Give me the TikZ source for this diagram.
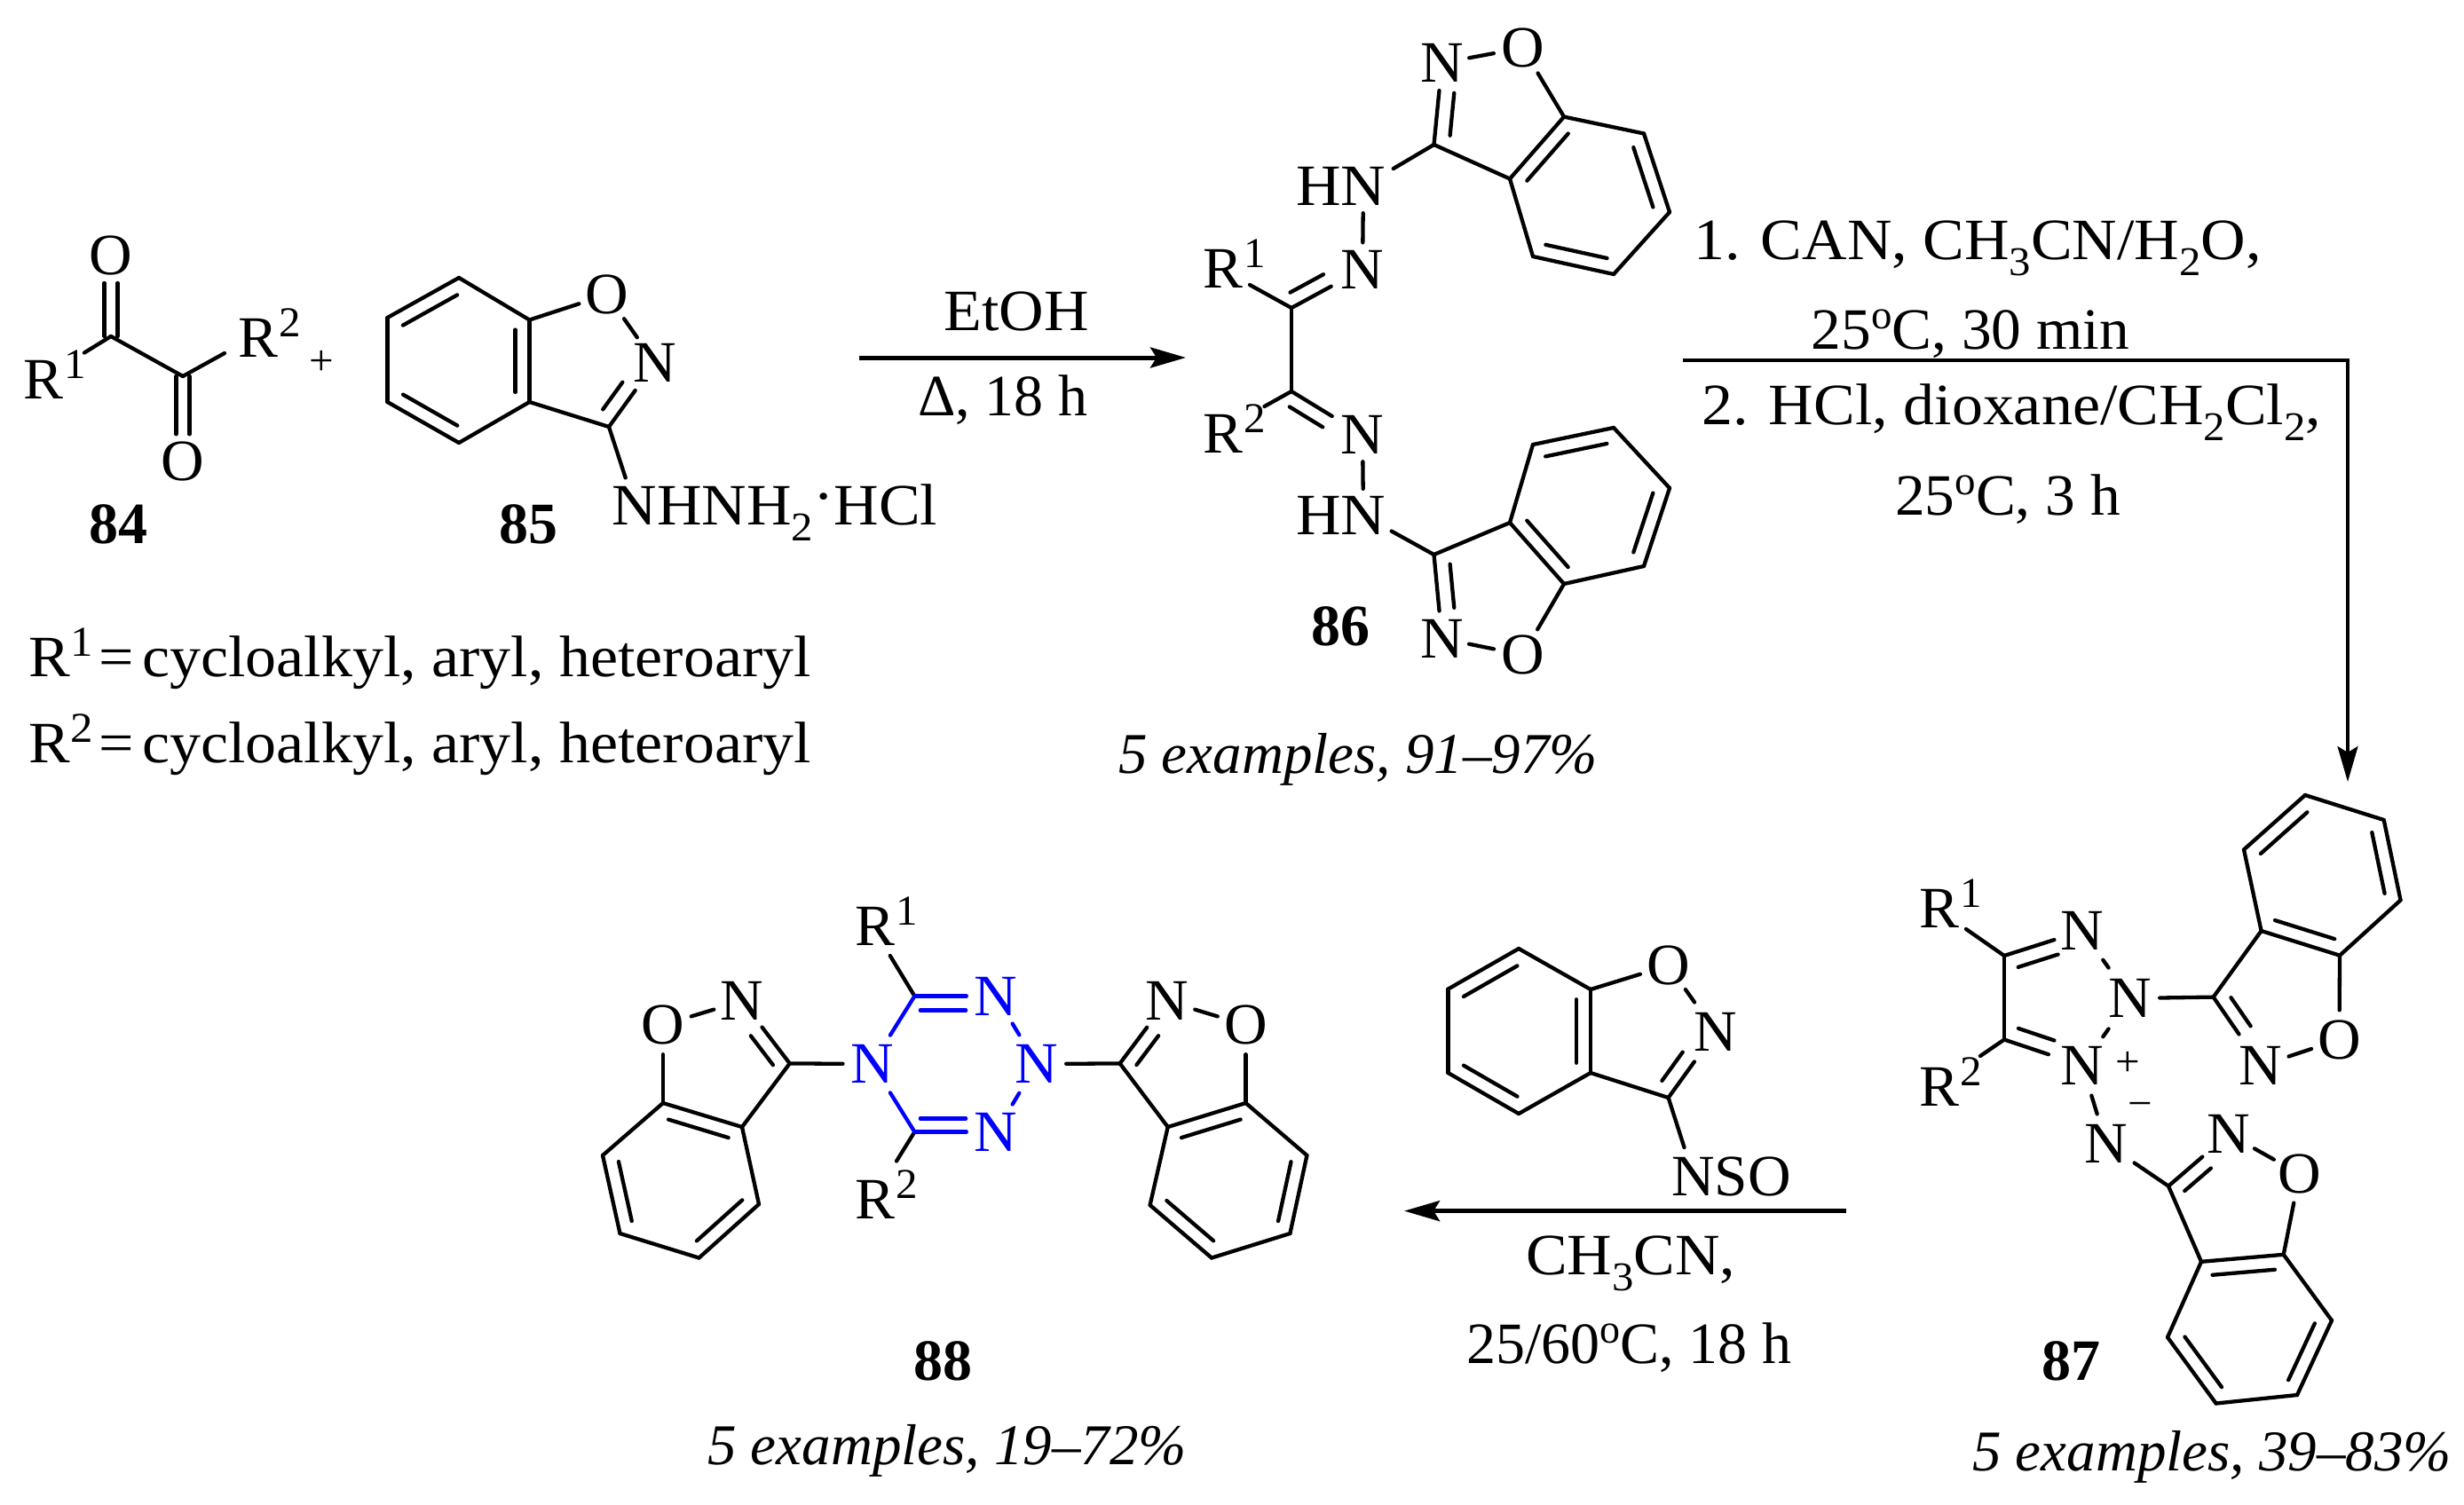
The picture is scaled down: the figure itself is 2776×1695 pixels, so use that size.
\documentclass[tikz,border=0pt]{standalone}
\usepackage{fontspec}
\setmainfont{Liberation Serif}
\newfontfamily\fw[FakeStretch=1.06]{Liberation Serif}
\newfontfamily\fm[FakeStretch=1.02]{Liberation Serif}
\usetikzlibrary{calc,arrows.meta}
\definecolor{tetblue}{RGB}{0,0,255}
\tikzset{
  bond/.style={line width=4.3pt,line cap=round,line join=round},
  reactline/.style={line width=5pt,-{Stealth[length=40pt,width=23pt,inset=7pt]}},
  atomnode/.style={circle,inner sep=0pt,font=\fm\fontsize{66}{70}\selectfont},
  txt/.style={inner sep=0pt,anchor=base,font=\fm\fontsize{66}{70}\selectfont},
  txtl/.style={txt,anchor=base west},
  wide/.style={font=\fw\fontsize{66}{70}\selectfont},
  lbl/.style={txt,font=\rmfamily\fontsize{66}{70}\selectfont\bfseries},
  ital/.style={txtl,font=\rmfamily\fontsize{65}{70}\selectfont\itshape},
  charge/.style={inner sep=0pt,font=\fm\fontsize{48}{50}\selectfont}
}
\newcommand\atom[4][66]{\node[atomnode,minimum size=#1pt] (#2) at (#3) {\hbox to 0pt{\hss\smash{\raisebox{-.33em}{#4}}\hss}};}
\newcommand\batom[4][66]{\node[atomnode,text=tetblue,minimum size=#1pt] (#2) at (#3) {\hbox to 0pt{\hss\smash{\raisebox{-.33em}{#4}}\hss}};}
\newcommand\bd[3][]{\draw[bond,#1] (#2) -- (#3);}
\newcommand\dbl[6][]{\draw[bond,#1] ($(#2)!#4!(#3)!#6pt!90:(#3)$) -- ($(#3)!#5!(#2)!#6pt!-90:(#2)$);}
\newcommand\rd[2]{\dbl{#1}{#2}{.12}{.12}{16}}
\newcommand\Rg[1]{R\kern1pt\raisebox{23pt}{\fontsize{48}{48}\selectfont #1}}
\newcommand\lo[1]{\raisebox{-18pt}{\fontsize{46}{46}\selectfont #1}}
\newcommand\hi[1]{\raisebox{23pt}{\fontsize{46}{46}\selectfont #1}}
\newcommand\pts[1]{\foreach \n/\p in {#1}{\coordinate (\n) at (\p);}}
\begin{document}
\begin{tikzpicture}[x=1pt,y=-1pt]
\useasboundingbox (0,0) rectangle (2776,1695);
% ---------- 84
\pts{a1/{125,379},a2/{206,424},ar1/{95,397.5},ar2/{253,398}}
\atom{ao1}{125,288}{O}
\atom{ao2}{206,520}{O}
\node[txtl] (ar1t) at (26,449) {\Rg{1}};
\node[txtl] (ar2t) at (268,402) {\Rg{2}};
\bd{a1}{a2}\bd{a1}{ar1}\bd{a2}{ar2}
\dbl{a1}{ao1}{.0}{.34}{7.5}\dbl{a1}{ao1}{.0}{.34}{-7.5}
\dbl{a2}{ao2}{.0}{.32}{7.5}\dbl{a2}{ao2}{.0}{.32}{-7.5}
\node[charge] (plus) at (362,409) {+};
\node[lbl] (l84) at (133,612) {84};
% ---------- 85
\pts{ba/{517,313},bb/{596.5,360.5},bc/{596.5,453},bd/{517,499},be/{436.5,453},bf/{436.5,358},bg/{686,481}}
\atom{bo}{684,332}{O}
\atom{bn}{738,409}{N}
\atom{bh}{715,570}{\fw N\rlap{HNH\lo{2}\raisebox{10pt}{·}HCl}}
\bd{ba}{bb}\bd{bb}{bc}\bd{bc}{bd}\bd{bd}{be}\bd{be}{bf}\bd{bf}{ba}
\rd{ba}{bf}\rd{be}{bd}\rd{bc}{bb}
\bd{bb}{bo}\bd{bc}{bg}\bd[shorten >=2pt]{bo}{bn}\bd[shorten >=5pt]{bg}{bn}
\dbl{bg}{bn}{.135}{.44}{17}
\bd{bg}{bh}
\node[lbl] (l85) at (595,612) {85};
\node[txtl,wide] (rdef1) at (32,762) {\Rg{1}\kern6pt=\kern-8pt\ cycloalkyl, aryl, heteroaryl};
\node[txtl,wide] (rdef2) at (32,859) {\Rg{2}\kern6pt=\kern-8pt\ cycloalkyl, aryl, heteroaryl};
% ---------- arrow 1
\pts{p1s/{968,403},p1e/{1336,403}}
\draw[reactline] (p1s) -- (p1e);
\node[txt,wide] (etoh) at (1145,372) {EtOH};
\node[txt,font=\rmfamily\fontsize{66}{70}\selectfont] (heat) at (1130,468) {Δ, 18 h};
% ---------- 86 upper
\pts{cc3/{1615.5,163},cc3a/{1701,201.5},cc7a/{1762,131.6},cc7/{1852,150.5},cc6/{1881,239},cc5/{1818,309},cc4/{1727,289},cu/{1455,347},cl/{1455,441},cr1/{1408,321},cr2/{1424.5,458}}
\atom[62]{cn}{1624.5,71}{N}
\atom{co}{1715.5,54}{O}
\atom[60]{chn}{1536,210}{\fw\llap{H}N}
\atom[60]{cim}{1535,303.5}{N}
\node[txtl] (cr1t) at (1355,324) {\Rg{1}};
\node[txtl] (cr2t) at (1355,510) {\Rg{2}};
\bd{cu}{cl}\bd{cu}{cr1}\bd{cl}{cr2}
\bd[shorten >=10pt]{cu}{cim}\dbl{cu}{cim}{.077}{.455}{16}
\bd{cim}{chn}
\bd[shorten >=9pt]{cc3}{chn}
\bd{cc3}{cn}\dbl{cc3}{cn}{.13}{.35}{-17}
\bd{cn}{co}\bd{co}{cc7a}\bd{cc7a}{cc3a}\bd{cc3a}{cc3}
\bd{cc7a}{cc7}\bd{cc7}{cc6}\bd{cc6}{cc5}\bd{cc5}{cc4}\bd{cc4}{cc3a}
\rd{cc7a}{cc3a}\rd{cc4}{cc5}\rd{cc6}{cc7}
% ---------- 86 lower
\pts{dc3/{1615.5,625},dc3a/{1701,589},dc7a/{1762,658},dc7/{1852,638},dc6/{1881,550},dc5/{1818,482},dc4/{1727,501}}
\atom[62]{dn}{1624.5,719.5}{N}
\atom{do}{1715.5,738}{O}
\atom[60]{dhn}{1536,581}{\fw\llap{H}N}
\atom[60]{dim}{1535,490}{N}
\bd[shorten >=10pt]{cl}{dim}\dbl{cl}{dim}{.077}{.455}{-16}
\bd{dim}{dhn}
\bd[shorten >=6pt]{dc3}{dhn}
\bd{dc3}{dn}\dbl{dc3}{dn}{.13}{.35}{17}
\bd{dn}{do}\bd{do}{dc7a}\bd{dc7a}{dc3a}\bd{dc3a}{dc3}
\bd{dc7a}{dc7}\bd{dc7}{dc6}\bd{dc6}{dc5}\bd{dc5}{dc4}\bd{dc4}{dc3a}
\rd{dc3a}{dc7a}\rd{dc7}{dc6}\rd{dc5}{dc4}
\node[lbl] (l86) at (1510,727) {86};
\node[ital] (y86) at (1260,871) {5 examples, 91–97\%};
% ---------- arrow 2
\pts{p2s/{1896,406},p2m/{2645,406},p2e/{2645,881}}
\draw[reactline,line width=3.6pt,line join=miter] (p2s) -- (p2m) -- (p2e);
\node[txtl,wide] (r21) at (1908,292) {1. CAN, CH\lo{3}CN/H\lo{2}O,};
\node[txt] (r22) at (2220,393) {25\hi{o}C, 30 min};
\node[txtl,wide] (r23) at (1917,478) {2. HCl, dioxane/CH\lo{2}Cl\lo{2},};
\node[txt] (r24) at (2262,580) {25\hi{o}C, 3 h};
% ---------- 87
\pts{ec4/{2258,1077},ec5/{2258,1171.5},er1/{2215,1047},er2/{2231,1190},
 fc3/{2493.6,1123.6},fc3a/{2547.6,1049},fc4/{2528,957.4},fc5/{2597,896},fc6/{2685.7,924},fc7/{2704.5,1014.4},fc7a/{2636,1076.7},
 gc3/{2443,1336.6},gc3a/{2480,1421.8},gc7a/{2572.7,1413.8},gc7/{2627,1488},gc6/{2588,1572},gc5/{2496.6,1581.5},gc4/{2442,1507}}
\atom{en1}{2346,1049}{N}
\atom{en2}{2400,1125}{N}
\atom{en3}{2346,1201}{N}
\atom{en4}{2373,1289}{N}
\node[charge] (eplus) at (2397,1199) {+};
\node[charge] (eminus) at (2411,1251) {−};
\node[txtl] (er1t) at (2162,1045) {\Rg{1}};
\node[txtl] (er2t) at (2162,1246) {\Rg{2}};
\bd{ec4}{ec5}\bd{ec4}{er1}\bd{ec5}{er2}
\bd{ec4}{en1}\dbl{ec4}{en1}{.12}{.37}{-17}
\bd[shorten >=7pt]{ec5}{en3}\dbl{ec5}{en3}{.12}{.42}{17}
\bd[shorten <=7pt,shorten >=9pt]{en1}{en2}\bd[shorten <=9pt,shorten >=7pt]{en2}{en3}
\bd[shorten <=2pt,shorten >=2pt]{en3}{en4}
\atom{fn}{2547,1201}{N}
\atom{fo}{2635.5,1171.5}{O}
\bd{en2}{fc3}\bd[shorten >=10pt]{fc3}{fn}\dbl{fc3}{fn}{.125}{.46}{16}
\bd{fn}{fo}\bd{fo}{fc7a}\bd{fc7a}{fc3a}\bd{fc3a}{fc3}
\bd{fc3a}{fc4}\bd{fc4}{fc5}\bd{fc5}{fc6}\bd{fc6}{fc7}\bd{fc7}{fc7a}
\rd{fc5}{fc4}\rd{fc3a}{fc7a}\rd{fc7}{fc6}
\atom{gn}{2511,1278}{N}
\atom{go}{2590.7,1323}{O}
\bd[shorten <=5pt]{en4}{gc3}\bd[shorten >=6pt]{gc3}{gn}\dbl{gc3}{gn}{.115}{.45}{-16}
\bd{gn}{go}\bd{go}{gc7a}\bd{gc7a}{gc3a}\bd{gc3a}{gc3}
\bd{gc3a}{gc4}\bd{gc4}{gc5}\bd{gc5}{gc6}\bd{gc6}{gc7}\bd{gc7}{gc7a}
\rd{gc7a}{gc3a}\rd{gc4}{gc5}\rd{gc6}{gc7}
\node[lbl] (l87) at (2333,1555) {87};
\node[ital] (y87) at (2222,1657) {5 examples, 39–83\%};
% ---------- reagent and arrow 3
\pts{ha/{1711,1069},hb/{1792,1115},hc/{1792,1209},hd/{1711,1255},he/{1631.4,1209},hf/{1631.4,1114.6},hg/{1879.6,1237},hs/{1897.5,1293}}
\atom{ho}{1879.6,1088}{O}
\atom{hn}{1933,1163}{N}
\node[txtl] (hnso) at (1883,1347) {NSO};
\bd{ha}{hb}\bd{hb}{hc}\bd{hc}{hd}\bd{hd}{he}\bd{he}{hf}\bd{hf}{ha}
\rd{ha}{hf}\rd{he}{hd}\rd{hc}{hb}
\bd{hb}{ho}\bd[shorten >=8pt]{ho}{hn}\bd[shorten >=8pt]{hg}{hn}\dbl{hg}{hn}{.124}{.44}{17}
\bd{hc}{hg}\bd{hg}{hs}
\pts{p3s/{2080,1364.6},p3e/{1582,1364.6}}
\draw[reactline] (p3s) -- (p3e);
\node[txtl,wide] (r31) at (1719,1436) {CH\lo{3}CN,};
\node[txtl,font=\rmfamily\fontsize{66}{70}\selectfont] (r32) at (1652,1536) {25/60\hi{o}C, 18 h};
% ---------- 88 ring
\pts{ic1/{1030.4,1122.5},ic2/{1030.4,1275.5},ir1/{1002.8,1077},ir2/{1010,1308.5}}
\batom{in1}{1122,1122.5}{N}
\batom{in2}{1168,1199}{N}
\batom{in3}{1122,1275.5}{N}
\batom{in4}{982.7,1199}{N}
\node[txtl] (ir1t) at (963,1065.5) {\Rg{1}};
\node[txtl] (ir2t) at (963,1373) {\Rg{2}};
\bd{ic1}{ir1}\bd{ic2}{ir2}
\bd[tetblue]{ic1}{in1}\dbl[tetblue]{ic1}{in1}{.07}{.37}{-16}
\bd[tetblue]{ic2}{in3}\dbl[tetblue]{ic2}{in3}{.07}{.37}{15}
\bd[tetblue,shorten >=5pt]{ic1}{in4}\bd[tetblue,shorten >=5pt]{ic2}{in4}
\bd[tetblue,shorten <=3pt,shorten >=5pt]{in1}{in2}\bd[tetblue,shorten <=5pt,shorten >=3pt]{in2}{in3}
% ---------- 88 left
\pts{jc3/{889.7,1198.4},jc3a/{836,1270},jc4/{855,1357},jc5/{787.5,1417.5},jc6/{698.5,1390},jc7/{679,1302},jc7a/{747,1243}}
\atom{jn}{836,1128}{N}
\atom{jo}{747,1155}{O}
\bd{jc3}{in4}\bd[shorten >=4pt]{jc3}{jn}\dbl{jc3}{jn}{.113}{.42}{16}
\bd{jn}{jo}\bd{jo}{jc7a}\bd{jc7a}{jc3a}\bd{jc3a}{jc3}
\bd{jc3a}{jc4}\bd{jc4}{jc5}\bd{jc5}{jc6}\bd{jc6}{jc7}\bd{jc7}{jc7a}
\rd{jc3a}{jc7a}\rd{jc7}{jc6}\rd{jc5}{jc4}
% ---------- 88 right
\pts{kc3/{1261.7,1198.4},kc3a/{1315.7,1270},kc4/{1295.6,1358},kc5/{1365,1417.5},kc6/{1453.4,1390},kc7/{1472.4,1302},kc7a/{1403.5,1243}}
\atom{kn}{1314.5,1128}{N}
\atom{ko}{1403.5,1155}{O}
\bd{kc3}{in2}\bd[shorten >=4pt]{kc3}{kn}\dbl{kc3}{kn}{.113}{.42}{-16}
\bd{kn}{ko}\bd{ko}{kc7a}\bd{kc7a}{kc3a}\bd{kc3a}{kc3}
\bd{kc3a}{kc4}\bd{kc4}{kc5}\bd{kc5}{kc6}\bd{kc6}{kc7}\bd{kc7}{kc7a}
\rd{kc7a}{kc3a}\rd{kc4}{kc5}\rd{kc6}{kc7}
\node[lbl] (l88) at (1062,1555) {88};
\node[ital] (y88) at (797,1650) {5 examples, 19–72\%};
\end{tikzpicture}
\end{document}
